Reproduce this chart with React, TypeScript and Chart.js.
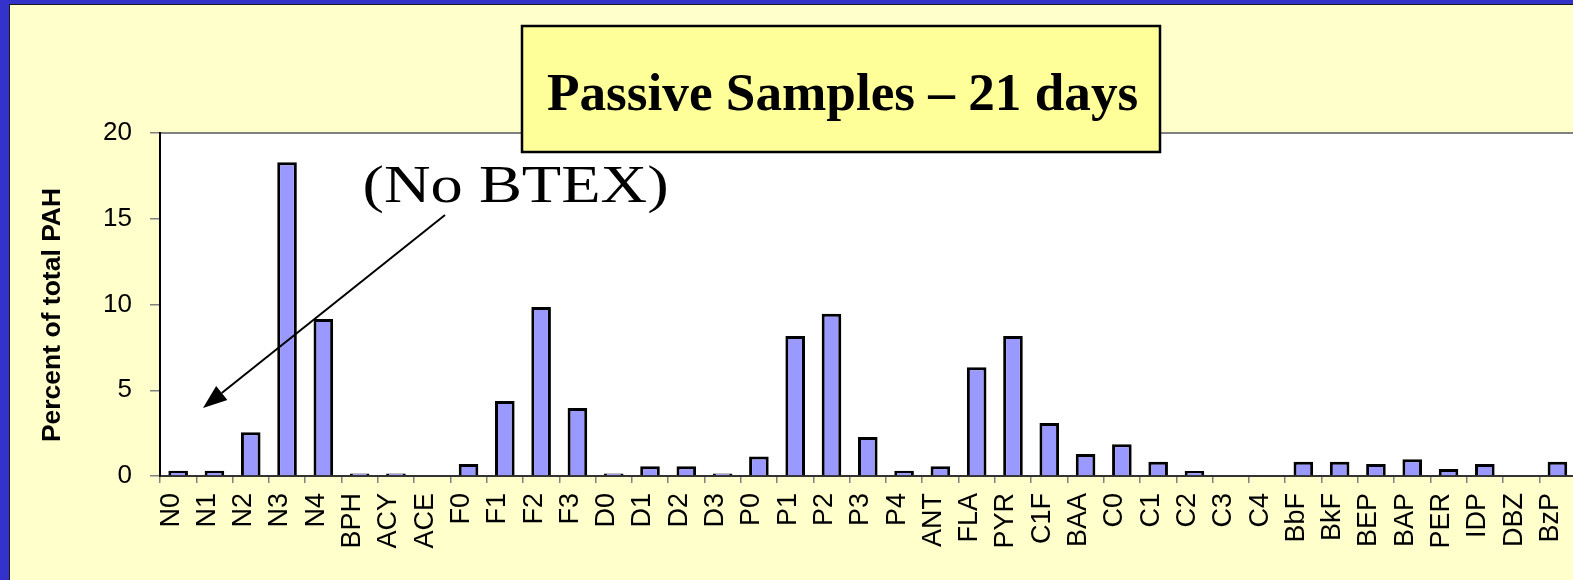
import { useEffect, useRef } from "react";
import { Chart, registerables } from "chart.js";

Chart.register(...registerables);

const categories = [
  "N0", "N1", "N2", "N3", "N4", "BPH", "ACY", "ACE", "F0", "F1", "F2", "F3",
  "D0", "D1", "D2", "D3", "P0", "P1", "P2", "P3", "P4", "ANT", "FLA", "PYR",
  "C1F", "BAA", "C0", "C1", "C2", "C3", "C4", "BbF", "BkF", "BEP", "BAP",
  "PER", "IDP", "DBZ", "BzP",
];

const percentOfTotalPAH = [
  0.3, 0.3, 2.55, 18.3, 9.15, 0.15, 0.15, 0, 0.7, 4.37, 9.85, 3.96,
  0.15, 0.57, 0.57, 0.15, 1.13, 8.16, 9.46, 2.27, 0.3, 0.57, 6.34, 8.16,
  3.09, 1.28, 1.85, 0.83, 0.29, 0, 0, 0.83, 0.83, 0.7, 0.97,
  0.41, 0.7, 0, 0.83,
];

const yTickValues = [0, 5, 10, 15, 20];

const titleText = "Passive Samples \u2013 21 days";
const noteText = "(No BTEX)";
const yAxisTitle = "Percent of total PAH";

const SANS = '"Liberation Sans", Arial, sans-serif';
const SERIF = '"Liberation Serif", "Times New Roman", serif';

function drawStretchedText(
  ctx: CanvasRenderingContext2D,
  text: string,
  font: string,
  left: number,
  right: number,
  baseline: number
) {
  ctx.save();
  ctx.font = font;
  ctx.textAlign = "left";
  ctx.textBaseline = "alphabetic";
  const m = ctx.measureText(text);
  const inkW = m.actualBoundingBoxLeft + m.actualBoundingBoxRight;
  const sx = (right - left) / inkW;
  ctx.translate(left, baseline);
  ctx.scale(sx, 1);
  ctx.fillStyle = "#000000";
  ctx.fillText(text, m.actualBoundingBoxLeft, 0);
  ctx.restore();
}

const slidePlugin = {
  id: "slideDecor",
  beforeDraw(chart: any) {
    const { ctx, chartArea: a } = chart;
    ctx.save();
    ctx.fillStyle = "#ffffff";
    ctx.fillRect(a.left, a.top, a.right - a.left, a.bottom - a.top);
    ctx.strokeStyle = "#808080";
    ctx.lineWidth = 2;
    ctx.beginPath();
    ctx.moveTo(a.left, a.top);
    ctx.lineTo(a.right, a.top);
    ctx.stroke();
    ctx.restore();
  },
  afterDraw(chart: any) {
    const { ctx } = chart;

    // y-axis title
    ctx.save();
    ctx.translate(53, 315);
    ctx.rotate(-Math.PI / 2);
    ctx.font = `bold 26.5px ${SANS}`;
    ctx.textAlign = "center";
    ctx.textBaseline = "middle";
    ctx.fillStyle = "#000000";
    ctx.fillText(yAxisTitle, 0, 0);
    ctx.restore();

    // arrow
    ctx.save();
    ctx.strokeStyle = "#000000";
    ctx.fillStyle = "#000000";
    ctx.lineWidth = 2;
    const x1 = 445, y1 = 215, x2 = 203, y2 = 408;
    const ang = Math.atan2(y2 - y1, x2 - x1);
    const headLen = 24, headHalf = 9;
    const bx = x2 - headLen * Math.cos(ang);
    const by = y2 - headLen * Math.sin(ang);
    ctx.beginPath();
    ctx.moveTo(x1, y1);
    ctx.lineTo(bx, by);
    ctx.stroke();
    ctx.beginPath();
    ctx.moveTo(x2, y2);
    ctx.lineTo(bx + headHalf * Math.sin(ang), by - headHalf * Math.cos(ang));
    ctx.lineTo(bx - headHalf * Math.sin(ang), by + headHalf * Math.cos(ang));
    ctx.closePath();
    ctx.fill();
    ctx.restore();

    drawStretchedText(ctx, noteText, `52px ${SERIF}`, 365, 667, 202);

    // title box
    ctx.save();
    ctx.fillStyle = "#FFFF99";
    ctx.fillRect(522, 26, 638, 126);
    ctx.strokeStyle = "#000000";
    ctx.lineWidth = 2.5;
    ctx.strokeRect(522, 26, 638, 126);
    ctx.restore();
    drawStretchedText(ctx, titleText, `bold 52px ${SERIF}`, 547, 1137, 110);
  },
};

export default function App() {
  const canvasRef = useRef<HTMLCanvasElement | null>(null);

  useEffect(() => {
    const canvas = canvasRef.current;
    if (!canvas) return;
    const chart = new Chart(canvas, {
      type: "bar",
      data: {
        labels: categories,
        datasets: [
          {
            data: percentOfTotalPAH,
            backgroundColor: "#9999FF",
            borderColor: "#000000",
            borderWidth: 3,
            borderSkipped: "start",
            barPercentage: 1,
            categoryPercentage: 0.54,
          },
        ],
      },
      options: {
        animation: false,
        responsive: false,
        maintainAspectRatio: false,
        devicePixelRatio: 1,
        layout: { padding: { top: 133, right: 14, left: 0, bottom: 0 } },
        plugins: {
          legend: { display: false },
          tooltip: { enabled: false },
          title: { display: false },
        },
        scales: {
          x: {
            offset: true,
            grid: {
              display: true,
              offset: true,
              drawOnChartArea: false,
              drawTicks: true,
              tickLength: 7,
              color: "#808080",
              lineWidth: 1.5,
            },
            border: { display: true, color: "#333333", width: 2 },
            ticks: {
              autoSkip: false,
              maxRotation: 90,
              minRotation: 90,
              padding: 10,
              labelOffset: -7,
              color: "#000000",
              font: { family: SANS, size: 27 },
            },
            afterFit: (s: any) => {
              s.height = 104;
            },
          },
          y: {
            min: 0,
            max: 20,
            grid: {
              drawOnChartArea: false,
              drawTicks: true,
              tickLength: 10,
              color: "#808080",
              lineWidth: 1.5,
            },
            border: { display: true, color: "#000000", width: 2 },
            ticks: {
              stepSize: 5,
              padding: 18,
              color: "#000000",
              font: { family: SANS, size: 26 },
            },
            afterBuildTicks: (s: any) => {
              s.ticks = yTickValues.map((v) => ({ value: v }));
            },
            title: { display: false },
            afterFit: (s: any) => {
              s.width = 160;
            },
          },
        },
      },
      plugins: [slidePlugin],
    } as any);
    return () => chart.destroy();
  }, []);

  return (
    <div
      style={{
        position: "relative",
        width: 1573,
        height: 580,
        overflow: "hidden",
        background: "#3333CC",
      }}
    >
      <style>{`html,body{margin:0;padding:0;overflow:hidden;}`}</style>
      <div
        style={{
          position: "absolute",
          left: 9,
          top: 4,
          right: -20,
          bottom: -20,
          background: "#FFFFCC",
          borderLeft: "1.5px solid #1a1a1a",
          borderTop: "1.5px solid #1a1a1a",
        }}
      />
      <canvas
        ref={canvasRef}
        width={1600}
        height={580}
        style={{ position: "absolute", left: 0, top: 0, width: 1600, height: 580 }}
      />
    </div>
  );
}
